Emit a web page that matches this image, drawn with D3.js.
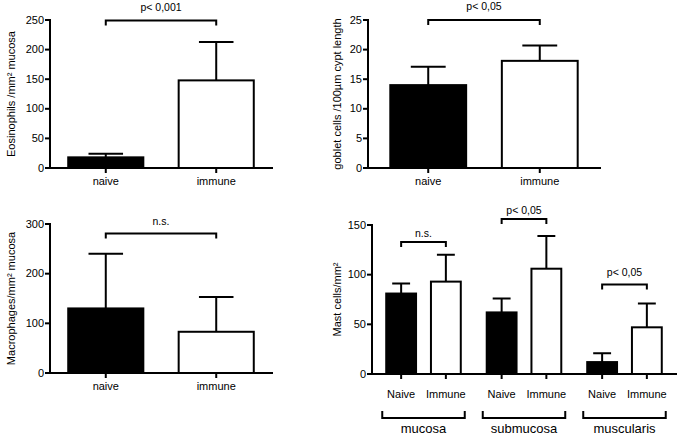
<!DOCTYPE html>
<html>
<head>
<meta charset="utf-8">
<script src="https://cdn.jsdelivr.net/npm/d3@7"></script>
<style>
  body { margin: 0; background: #fff; }
  text { font-family: "Liberation Sans", Arial, sans-serif; fill: #000; }
</style>
</head>
<body>
<svg id="chart" width="679" height="438"></svg>
<script>
// ---- data ----
const treatments = ["naive", "immune"];

const eosMean = [18, 148];
const eosErr = [6, 65];

const gobletMean = [14, 18.1];
const gobletErr = [3.1, 2.6];

const macroMean = [130, 83];
const macroErr = [110, 70];

const mastLayers = ["mucosa", "submucosa", "muscularis"];
const mastTreatments = ["Naive", "Immune"];
const mastNaive = [81, 62, 12];
const mastNaiveErr = [10, 14, 9];
const mastImmune = [93, 106, 47];
const mastImmuneErr = [27, 33, 24];

const eosTicks = [0, 50, 100, 150, 200, 250];
const gobletTicks = [0, 5, 10, 15, 20, 25];
const macroTicks = [0, 100, 200, 300];
const mastTicks = [0, 50, 100, 150];

// significance labels and the height (data units) of their brackets
const eosSig = ["p< 0,001", 249];
const gobletSig = ["p< 0,05", 25];
const macroSig = ["n.s.", 281];
const mastSigText = ["n.s.", "p< 0,05", "p< 0,05"];
const mastSigHeight = [133, 156, 90];

const fills = ["#000", "#fff"];
const font = '"Liberation Sans", Arial, sans-serif';

const svg = d3.select("#chart");

function styleAxis(g, size) {
  g.attr("font-size", size || 11).attr("font-family", font);
  g.selectAll("path, line").attr("stroke", "#000").attr("stroke-width", 2);
  g.select(".domain").attr("stroke-linecap", "square");
  g.selectAll("text").attr("fill", "#000");
}

function bracket(g, xa, xb, yy, down) {
  g.append("path")
    .attr("d", `M${xa},${yy + down}V${yy}H${xb}V${yy + down}`)
    .attr("fill", "none")
    .attr("stroke", "#000")
    .attr("stroke-width", 2);
}

function yLabel(g, text, x, yc) {
  g.append("text")
    .attr("transform", `translate(${x},${yc}) rotate(-90)`)
    .attr("text-anchor", "middle")
    .attr("font-size", 11)
    .text(text);
}

// two-bar panel
function drawPanel(p, means, errs, ticks, sig, label) {
  const g = svg.append("g");

  const x = d3.scaleBand()
    .domain(treatments)
    .range([p.left, p.right])
    .paddingInner(p.pi)
    .paddingOuter(p.po);
  const y = d3.scaleLinear()
    .domain([0, ticks[ticks.length - 1]])
    .range([p.bottom, p.top]);

  const bw = x.bandwidth();
  const cap = bw * 0.46;

  // error bars (upper only)
  g.selectAll(".err")
    .data(treatments)
    .join("path")
      .attr("class", "err")
      .attr("d", (d, i) => {
        const cx = x(d) + bw / 2;
        return `M${cx},${y(means[i])}V${y(means[i] + errs[i])}M${cx - cap / 2},${y(means[i] + errs[i])}H${cx + cap / 2}`;
      })
      .attr("stroke", "#000")
      .attr("stroke-width", 2)
      .attr("fill", "none");

  // bars
  g.selectAll(".bar")
    .data(treatments)
    .join("rect")
      .attr("class", "bar")
      .attr("x", d => x(d))
      .attr("y", (d, i) => y(means[i]))
      .attr("width", bw)
      .attr("height", (d, i) => y(0) - y(means[i]))
      .attr("fill", (d, i) => fills[i])
      .attr("stroke", "#000")
      .attr("stroke-width", 2);

  // axes
  g.append("g")
    .attr("transform", `translate(${p.left},0)`)
    .call(d3.axisLeft(y).tickValues(ticks).tickSize(5).tickSizeOuter(0).tickPadding(1).offset(0))
    .call(styleAxis);

  g.append("g")
    .attr("transform", `translate(0,${p.bottom})`)
    .call(d3.axisBottom(x).tickSize(5).tickSizeOuter(0).tickPadding(4).offset(0))
    .call(styleAxis);

  // significance bracket
  const xa = x(treatments[0]) + bw / 2;
  const xb = x(treatments[1]) + bw / 2;
  bracket(g, xa, xb, y(sig[1]), 5);
  g.append("text")
    .attr("x", (xa + xb) / 2)
    .attr("y", y(sig[1]) - p.sigDy)
    .attr("text-anchor", "middle")
    .attr("font-size", 10.5)
    .text(sig[0]);

  yLabel(g, label, p.labelX, (p.top + p.bottom) / 2);
}

drawPanel({ left: 50, right: 272, top: 20, bottom: 168, pi: 0.32, po: 0.165, sigDy: 10, labelX: 15 },
  eosMean, eosErr, eosTicks, eosSig, "Eosinophils /mm² mucosa");

drawPanel({ left: 368, right: 600, top: 20, bottom: 168, pi: 0.32, po: 0.2, sigDy: 10, labelX: 341 },
  gobletMean, gobletErr, gobletTicks, gobletSig, "goblet cells /100µm cypt length");

drawPanel({ left: 50, right: 272, top: 224, bottom: 373, pi: 0.32, po: 0.165, sigDy: 8, labelX: 15 },
  macroMean, macroErr, macroTicks, macroSig, "Macrophages/mm² mucosa");

// ---- grouped mast cell panel ----
(function () {
  const p = { left: 372, right: 676, top: 225, bottom: 374, labelX: 341 };
  const g = svg.append("g");

  const x0 = d3.scaleBand()
    .domain(mastLayers)
    .range([p.left, p.right])
    .paddingInner(0)
    .paddingOuter(0.0125);
  const x1 = d3.scaleBand()
    .domain(mastTreatments)
    .range([0, x0.bandwidth()])
    .paddingInner(0.333)
    .paddingOuter(0.29);
  const y = d3.scaleLinear()
    .domain([0, mastTicks[mastTicks.length - 1]])
    .range([p.bottom, p.top]);

  const rows = mastLayers.flatMap((layer, i) => [
    { layer, t: "Naive", v: mastNaive[i], e: mastNaiveErr[i], fill: fills[0] },
    { layer, t: "Immune", v: mastImmune[i], e: mastImmuneErr[i], fill: fills[1] }
  ]);

  const bw = x1.bandwidth();
  const cap = bw * 0.6;
  const bx = d => x0(d.layer) + x1(d.t);

  g.selectAll(".err")
    .data(rows)
    .join("path")
      .attr("class", "err")
      .attr("d", d => {
        const cx = bx(d) + bw / 2;
        return `M${cx},${y(d.v)}V${y(d.v + d.e)}M${cx - cap / 2},${y(d.v + d.e)}H${cx + cap / 2}`;
      })
      .attr("stroke", "#000")
      .attr("stroke-width", 2)
      .attr("fill", "none");

  g.selectAll(".bar")
    .data(rows)
    .join("rect")
      .attr("class", "bar")
      .attr("x", bx)
      .attr("y", d => y(d.v))
      .attr("width", bw)
      .attr("height", d => y(0) - y(d.v))
      .attr("fill", d => d.fill)
      .attr("stroke", "#000")
      .attr("stroke-width", 2);

  g.append("g")
    .attr("transform", `translate(${p.left},0)`)
    .call(d3.axisLeft(y).tickValues(mastTicks).tickSize(5).tickSizeOuter(0).tickPadding(1).offset(0))
    .call(styleAxis);

  // x axis line
  g.append("g")
    .attr("transform", `translate(0,${p.bottom})`)
    .call(d3.axisBottom(x0).tickValues([]).tickSizeOuter(0).offset(0))
    .call(styleAxis);

  // per-group sub ticks, brackets and labels
  mastLayers.forEach((layer, i) => {
    const sub = g.append("g")
      .attr("transform", `translate(${x0(layer)},${p.bottom})`)
      .call(d3.axisBottom(x1).tickSize(5).tickSizeOuter(0).tickPadding(11.5).offset(0))
      .call(styleAxis);
    sub.select(".domain").remove();

    const gx = x0(layer);
    bracket(g, gx + 9, gx + x0.bandwidth() - 9, 418, -7);
    g.append("text")
      .attr("x", gx + x0.bandwidth() / 2)
      .attr("y", 433)
      .attr("text-anchor", "middle")
      .attr("font-size", 13)
      .text(layer);

    const xa = gx + x1("Naive") + bw / 2;
    const xb = gx + x1("Immune") + bw / 2;
    const yy = y(mastSigHeight[i]);
    bracket(g, xa, xb, yy, 5);
    g.append("text")
      .attr("x", (xa + xb) / 2)
      .attr("y", yy - (i === 2 ? 9 : 5))
      .attr("text-anchor", "middle")
      .attr("font-size", 10.5)
      .text(mastSigText[i]);
  });

  yLabel(g, "Mast cells/mm²", p.labelX, (p.top + p.bottom) / 2);
})();
</script>
</body>
</html>
